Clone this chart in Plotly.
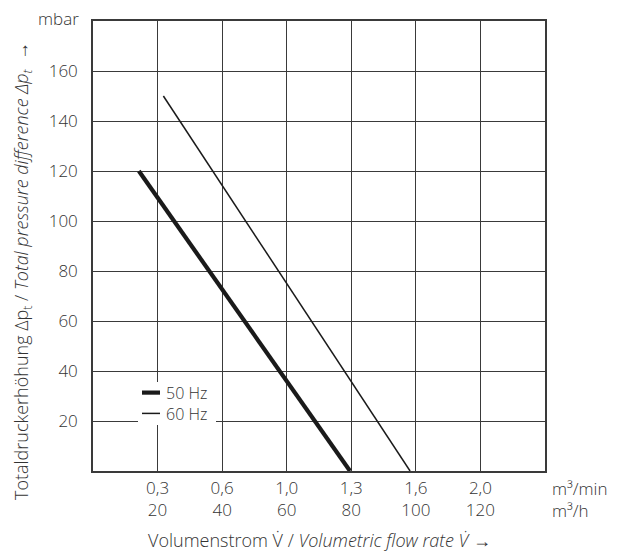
import plotly.graph_objects as go

# Data
flow_50 = [14.2, 79.6]      # m³/h
dp_50 = [120, 0]            # mbar
flow_60 = [21.8, 98.2]      # m³/h
dp_60 = [150, 0]            # mbar
series_names = ["50 Hz", "60 Hz"]

x_tickvals = [20, 40, 60, 80, 100, 120]
x_ticks_min = ["0,3", "0,6", "1,0", "1,3", "1,6", "2,0"]
x_ticks_h = ["20", "40", "60", "80", "100", "120"]
y_tickvals = [20, 40, 60, 80, 100, 120, 140, 160]

FONT = "Open Sans"
TXT = "#333333"
GRID = "#3a3a3a"
W = 300
PW, PH, L, T = 452, 450, 93, 21  # plot area size in px


def f(size):
    return dict(family=FONT, size=size, color=TXT, weight=W)


def px(x):
    return (x - L) / PW


def py(y):
    return (T + PH - y) / PH


widths = [4.2, 1.5]
fig = go.Figure()
fig.add_trace(go.Scatter(x=flow_50, y=dp_50, mode="lines", name=series_names[0],
                         line=dict(color="#1a1a1a", width=widths[0]), showlegend=False))
fig.add_trace(go.Scatter(x=flow_60, y=dp_60, mode="lines", name=series_names[1],
                         line=dict(color="#1a1a1a", width=widths[1]), showlegend=False))

fig.update_layout(
    width=619, height=556,
    margin=dict(l=L, r=619 - L - PW, t=T, b=556 - T - PH),
    paper_bgcolor="white", plot_bgcolor="white",
    font=f(17),
    showlegend=False,
    xaxis=dict(range=[0, 140], tickvals=x_tickvals,
               ticktext=[f"{a}<br>{b}" for a, b in zip(x_ticks_min, x_ticks_h)],
               showgrid=True, gridcolor=GRID, gridwidth=1.2,
               showline=True, linecolor=GRID, linewidth=1.6, mirror=True,
               ticks="", zeroline=False, ticklabelstandoff=1,
               tickfont=f(17)),
    yaxis=dict(range=[0, 180], tickvals=y_tickvals,
               showgrid=True, gridcolor=GRID, gridwidth=1.2,
               showline=True, linecolor=GRID, linewidth=1.6, mirror=True,
               ticks="", zeroline=False, ticklabelstandoff=10,
               tickfont=f(17)),
)

# Legend (drawn inside the plot on a white patch, as in the reference)
LEG_FS = 16
row_gap = LEG_FS * 1.3
y_mid = 403
fig.add_shape(type="rect", xref="paper", yref="paper",
              x0=px(138), x1=px(216), y0=py(425), y1=py(382),
              fillcolor="white", line=dict(width=0), layer="above")
for i, w in enumerate(widths):
    yy = y_mid + (i - 0.5) * row_gap
    fig.add_shape(type="line", xref="paper", yref="paper",
                  x0=px(142), x1=px(160), y0=py(yy), y1=py(yy),
                  line=dict(color="#1a1a1a", width=w), layer="above")
fig.add_annotation(text="<br>".join(series_names), xref="paper", yref="paper",
                   x=px(164), y=py(y_mid), xanchor="left", yanchor="middle",
                   align="left", showarrow=False, font=f(LEG_FS))

fig.add_annotation(text="mbar", xref="paper", yref="paper", x=0, y=1,
                   xanchor="right", yanchor="middle", xshift=-12, yshift=3,
                   showarrow=False, font=f(17))
fig.add_annotation(text="m³/min<br>m³/h", xref="paper", yref="paper", x=1, y=0,
                   xanchor="left", yanchor="top", align="left", xshift=5, yshift=-4,
                   showarrow=False, font=f(17))
fig.add_annotation(text="Volumenstrom V\u0307 / <i>Volumetric flow rate V\u0307</i> \u2192",
                   xref="paper", yref="paper", x=0.5, y=py(540),
                   xanchor="center", yanchor="middle", showarrow=False,
                   font=f(18))
fig.add_annotation(text="Totaldruckerhöhung Δp<sub>t</sub> / <i>Total pressure difference Δp<sub>t</sub></i>  \u2192",
                   xref="paper", yref="paper", x=px(22), y=py(271), textangle=-90,
                   xanchor="center", yanchor="middle", showarrow=False,
                   font=f(18))

fig.write_html("out.html")
